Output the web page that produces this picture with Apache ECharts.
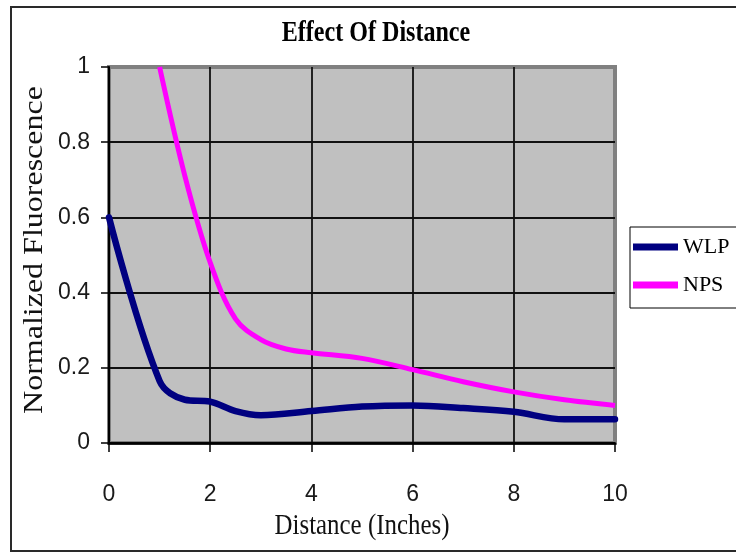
<!DOCTYPE html>
<html>
<head>
<meta charset="utf-8">
<script src="https://cdn.jsdelivr.net/npm/echarts@6/dist/echarts.min.js"></script>
<style>
  html, body { margin: 0; padding: 0; background: #ffffff; }
  #chart { width: 736px; height: 553px; }
</style>
</head>
<body>
<div id="chart"></div>
<script>
// Distance (inches) and normalized fluorescence readings per probe
const wlpDistance = [0, 1, 1.5, 2, 2.5, 3, 4, 5, 6, 7, 8, 9, 10];
const wlpValues   = [0.6, 0.165, 0.115, 0.11, 0.085, 0.074, 0.085, 0.097, 0.1, 0.093, 0.083, 0.063, 0.063];

const npsDistance = [1, 1.5, 2, 2.5, 3, 3.5, 4, 5, 6, 7, 8, 9, 10];
const npsValues   = [1, 0.71, 0.48, 0.33, 0.275, 0.25, 0.24, 0.225, 0.195, 0.163, 0.136, 0.115, 0.1];

const seriesNames = ['WLP', 'NPS'];
const xTicks = { min: 0, max: 10, interval: 2 };
const yTicks = { min: 0, max: 1, interval: 0.2 };

const chartTitle = 'Effect Of Distance';
const xTitle = 'Distance (Inches)';
const yTitle = 'Normalized Fluorescence';

function pairs(xs, ys) {
  return xs.map((x, i) => [x, ys[i]]);
}

const chart = echarts.init(document.getElementById('chart'), null, { renderer: 'canvas' });

const serif = '"Liberation Serif", "Times New Roman", serif';
const sans = '"Liberation Sans", Arial, sans-serif';

chart.setOption({
  backgroundColor: '#ffffff',
  animation: false,
  grid: {
    left: 109, right: 121, top: 67, bottom: 110,
    show: true,
    backgroundColor: '#c0c0c0',
    borderColor: '#808080',
    borderWidth: 4
  },
  legend: {
    data: seriesNames,
    orient: 'vertical',
    left: 630,
    top: 227,
    icon: 'rect',
    itemWidth: 45,
    itemHeight: 7,
    itemGap: 16,
    padding: [9, 8, 12, 3],
    borderColor: '#000000',
    borderWidth: 1,
    textStyle: { fontFamily: serif, fontSize: 22, color: '#000000' }
  },
  xAxis: {
    type: 'value',
    min: xTicks.min, max: xTicks.max, interval: xTicks.interval,
    axisLine: { show: true, onZero: false, lineStyle: { color: '#000000', width: 2.5 } },
    axisTick: { show: true, inside: false, length: 9, lineStyle: { color: '#000000', width: 1.5 } },
    axisLabel: { margin: 40, fontFamily: sans, fontSize: 23, color: '#1a1a1a' },
    splitLine: { show: true, showMaxLine: false, lineStyle: { color: '#111111', width: 1.8 } }
  },
  yAxis: {
    type: 'value',
    min: yTicks.min, max: yTicks.max, interval: yTicks.interval,
    axisLine: { show: true, lineStyle: { color: '#000000', width: 2 } },
    axisTick: { show: true, inside: false, length: 8, lineStyle: { color: '#000000', width: 1.5 } },
    axisLabel: { margin: 19, fontFamily: sans, fontSize: 23, color: '#1a1a1a' },
    splitLine: { show: true, showMaxLine: false, lineStyle: { color: '#111111', width: 1.8 } }
  },
  series: [
    {
      name: seriesNames[0],
      type: 'line',
      data: pairs(wlpDistance, wlpValues),
      smooth: 0.35,
      showSymbol: false,
      symbol: 'none',
      itemStyle: { color: '#000080' },
      lineStyle: { color: '#000080', width: 6.5, cap: 'round', join: 'round' },
      z: 3
    },
    {
      name: seriesNames[1],
      type: 'line',
      data: pairs(npsDistance, npsValues),
      smooth: 0.35,
      showSymbol: false,
      symbol: 'none',
      itemStyle: { color: '#ff00ff' },
      lineStyle: { color: '#ff00ff', width: 5, cap: 'butt', join: 'round' },
      z: 4
    }
  ],
  graphic: [
    {
      type: 'rect',
      silent: true,
      shape: { x: 11, y: 7, width: 740, height: 544 },
      style: { fill: null, stroke: '#2a2a2a', lineWidth: 2 },
      z: -1
    },
    {
      type: 'text',
      x: 376, y: 34,
      scaleX: 0.83,
      style: {
        text: chartTitle,
        font: 'bold 29px ' + serif,
        fill: '#000000',
        align: 'center',
        verticalAlign: 'middle'
      }
    },
    {
      type: 'text',
      x: 362, y: 526,
      scaleX: 0.83,
      style: {
        text: xTitle,
        font: '30px ' + serif,
        fill: '#111111',
        align: 'center',
        verticalAlign: 'middle'
      }
    },
    {
      type: 'text',
      x: 35, y: 250,
      rotation: Math.PI / 2,
      scaleY: 0.83,
      style: {
        text: yTitle,
        font: '32px ' + serif,
        fill: '#111111',
        align: 'center',
        verticalAlign: 'middle'
      }
    }
  ]
});
</script>
</body>
</html>
